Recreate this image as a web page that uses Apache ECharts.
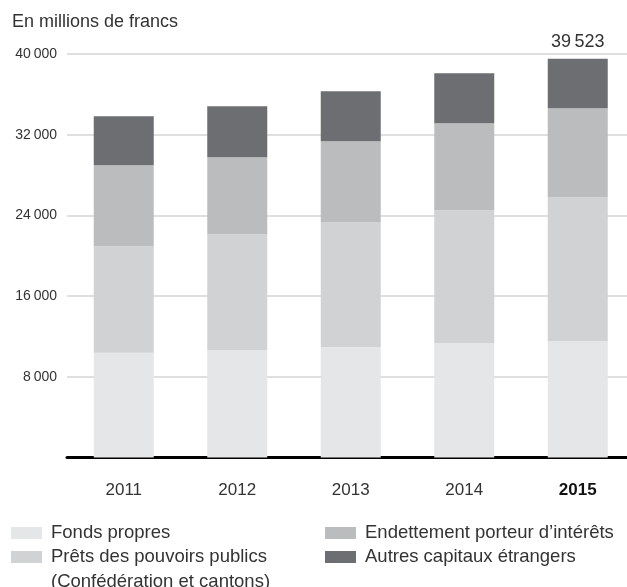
<!DOCTYPE html>
<html>
<head>
<meta charset="utf-8">
<script src="https://cdn.jsdelivr.net/npm/echarts@6/dist/echarts.min.js"></script>
<style>html,body{margin:0;padding:0;background:#fff;overflow:hidden}#c{width:636px;height:587px}</style>
</head>
<body>
<div id="c"></div>
<script>
var years = ['2011', '2012', '2013', '2014', '2015'];
var fondsPropres = [10380, 10640, 10940, 11340, 11540];
var pretsPouvoirs = [10570, 11500, 12390, 13180, 14270];
var endettement = [8030, 7630, 8030, 8620, 8820];
var autresCapitaux = [4855, 5050, 4955, 4955, 4893];
var yTicks = [0, 8000, 16000, 24000, 32000, 40000];
var seriesNames = ['Fonds propres', 'Prêts des pouvoirs publics', 'Endettement porteur d’intérêts', 'Autres capitaux étrangers'];
var legendExtraLine = '(Confédération et cantons)';
var colors = ['#e5e6e8', '#d1d2d4', '#bbbcbe', '#6d6e71'];
var FONT = 'Liberation Sans, Arial, sans-serif';

function fmt(v) {
  var s = String(Math.round(v));
  if (s.length > 3) s = s.slice(0, s.length - 3) + '\u2009' + s.slice(-3);
  return s;
}

var chart = echarts.init(document.getElementById('c'), null, {renderer: 'canvas'});
var seriesData = [fondsPropres, pretsPouvoirs, endettement, autresCapitaux];
var totals = years.map(function (_, i) {
  return seriesData.reduce(function (a, s) { return a + s[i]; }, 0);
});

var series = seriesData.map(function (d, k) {
  var s = {
    name: seriesNames[k],
    type: 'bar',
    stack: 'total',
    barWidth: 60,
    itemStyle: {color: colors[k]},
    emphasis: {disabled: true},
    data: d.slice()
  };
  if (k === 3) {
    s.label = {
      show: true,
      position: 'top',
      distance: 8,
      color: '#333',
      fontFamily: FONT,
      fontSize: 18,
      formatter: function (p) { return p.dataIndex === years.length - 1 ? fmt(totals[p.dataIndex]) : ''; }
    };
  }
  return s;
});

var legendText = {fontFamily: FONT, fontSize: 18.5, lineHeight: 20, color: '#333', padding: [0, 0, 0, 4]};

chart.setOption({
  animation: false,
  grid: {left: 67, top: 54, width: 567.5, height: 403.5, containLabel: false},
  title: {
    text: 'En millions de francs',
    left: 7, top: 8,
    textStyle: {fontFamily: FONT, fontSize: 18, fontWeight: 'normal', color: '#333'}
  },
  legend: [
    {
      data: [seriesNames[0], seriesNames[1]],
      orient: 'vertical', left: 6, top: 518,
      itemWidth: 31, itemHeight: 12, itemGap: 4,
      icon: 'rect',
      textStyle: legendText
    },
    {
      data: [seriesNames[2], seriesNames[3]],
      orient: 'vertical', left: 320, top: 518,
      itemWidth: 31, itemHeight: 12, itemGap: 4,
      icon: 'rect',
      textStyle: legendText
    }
  ],
  graphic: [{
    type: 'text', left: 51, top: 572,
    style: {text: legendExtraLine, font: '18.5px ' + FONT, fill: '#333'}
  }],
  xAxis: {
    type: 'category',
    data: years,
    axisLine: {lineStyle: {color: '#000', width: 3}},
    axisTick: {show: false},
    axisLabel: {
      margin: 24,
      fontFamily: FONT, fontSize: 17, color: '#333',
      formatter: function (v, i) { return i === years.length - 1 ? '{b|' + v + '}' : v; },
      rich: {b: {fontWeight: 'bold', fontFamily: FONT, fontSize: 17, color: '#111'}}
    }
  },
  yAxis: {
    type: 'value',
    min: yTicks[0], max: yTicks[yTicks.length - 1], interval: yTicks[1] - yTicks[0],
    axisLine: {show: false},
    axisTick: {show: false},
    splitLine: {lineStyle: {color: '#d4d4d4', width: 1.5}},
    axisLabel: {
      margin: 10,
      fontFamily: FONT, fontSize: 14, color: '#333',
      formatter: function (v) { return v === 0 ? '' : fmt(v); }
    }
  },
  series: series
});
</script>
</body>
</html>
